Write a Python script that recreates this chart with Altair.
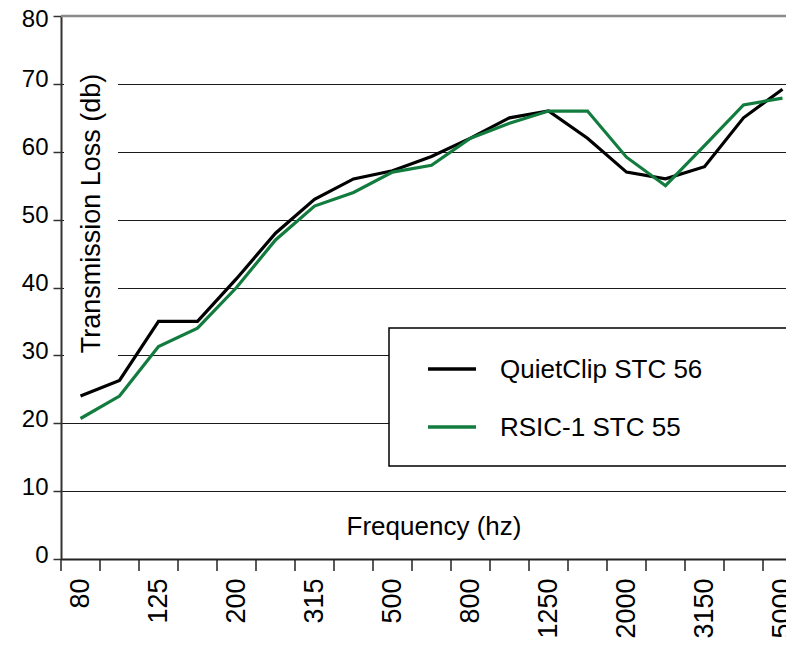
import altair as alt
import pandas as pd

freqs = ["80", "100", "125", "160", "200", "250", "315", "400", "500", "630",
         "800", "1000", "1250", "1600", "2000", "2500", "3150", "4000", "5000"]
quietclip = [24, 26.3, 35, 35, 41.3, 48, 53, 56, 57.2, 59.3,
             62, 65, 66, 62, 57, 56, 57.8, 65, 69.2]
rsic = [20.7, 24, 31.3, 34, 40, 47, 52, 54, 57, 58,
        62, 64.2, 66, 66, 59.2, 55, 60.9, 66.9, 67.9]
series_names = ["QuietClip STC 56", "RSIC-1 STC 55"]
series_colors = ["#000000", "#127c3f"]
y_ticks = [0, 10, 20, 30, 40, 50, 60, 70, 80]
y_title = "Transmission Loss (db)"
x_title = "Frequency (hz)"

FONT = "Liberation Sans"
PLOT_W = 725
BAND = 39.0  # pixel width of one frequency band in the reference

idx = list(range(len(freqs)))
labeled_idx = idx[::2]
boundaries = [i - 0.5 for i in range(len(freqs) + 1)]

rows = []
for i, f, a, b in zip(idx, freqs, quietclip, rsic):
    rows.append({"idx": i, "freq": f, "series": series_names[0], "loss": a})
    rows.append({"idx": i, "freq": f, "series": series_names[1], "loss": b})
df = pd.DataFrame(rows)
ticks_df = pd.DataFrame({"b": boundaries})
one = pd.DataFrame({"k": [0]})

label_expr = "[" + ",".join("'%s'" % v for v in freqs) + "][datum.value]"
x_domain = [-0.5, -0.5 + PLOT_W / BAND]

x_scale = alt.Scale(domain=x_domain, nice=False, zero=False)
x_enc = alt.X(
    "idx:Q", scale=x_scale,
    axis=alt.Axis(title=None, values=labeled_idx, labelExpr=label_expr, labelAngle=270,
                  labelFont=FONT, labelFontSize=27, labelColor="#000000",
                  labelPadding=19, labelOverlap=False, labelFlush=False, ticks=False,
                  tickSize=0, domainColor="#222222", domainWidth=2, grid=False),
)
y_enc = alt.Y(
    "loss:Q",
    scale=alt.Scale(domain=[0, 80], nice=False),
    axis=alt.Axis(title=None, values=y_ticks, grid=True, gridColor="#1a1a1a",
                  gridWidth=1.2, tickSize=8, tickColor="#333333", tickWidth=1.5,
                  domainColor="#333333", domainWidth=2, labelFont=FONT,
                  labelFontSize=24, labelColor="#000000", labelPadding=5,
                  labelOffset=alt.condition("datum.value == 80", alt.value(3),
                                            alt.value(-4))),
)

lines = alt.Chart(df).mark_line(strokeWidth=3.2).encode(
    x=x_enc, y=y_enc,
    color=alt.Color("series:N", scale=alt.Scale(domain=series_names, range=series_colors),
                    legend=None),
)

xticks = alt.Chart(ticks_df).mark_rule(color="#222222", strokeWidth=1.5).encode(
    x=alt.X("b:Q", scale=x_scale), y=alt.value(543), y2=alt.value(555))

mask = alt.Chart(one).mark_rect(fill="white").encode(
    x=alt.value(3), x2=alt.value(57), y=alt.value(44), y2=alt.value(354))

top_rule = alt.Chart(one).mark_rule(color="#8a8a8a", strokeWidth=2.5).encode(
    y=alt.datum(80))

ytitle = alt.Chart(one).mark_text(angle=270, font=FONT, fontSize=27, color="#000000",
                                  align="center", baseline="middle").encode(
    x=alt.value(31), y=alt.value(197.5), text=alt.value(y_title))

xtitle = alt.Chart(one).mark_text(font=FONT, fontSize=26, color="#000000",
                                  align="center", baseline="alphabetic").encode(
    x=alt.value(373), y=alt.value(519), text=alt.value(x_title))

legend_box = alt.Chart(one).mark_rect(fill="white", stroke="#000000", strokeWidth=1.5).encode(
    x=alt.value(328), x2=alt.value(729), y=alt.value(312), y2=alt.value(450))

legend_layers = []
for i, (name, col) in enumerate(zip(series_names, series_colors)):
    yy = 353 + 58 * i
    legend_layers.append(alt.Chart(one).mark_rule(strokeWidth=3.5, color=col).encode(
        x=alt.value(367), x2=alt.value(415), y=alt.value(yy)))
    legend_layers.append(alt.Chart(one).mark_text(font=FONT, fontSize=26, color="#000000",
                                                  align="left", baseline="middle").encode(
        x=alt.value(439), y=alt.value(yy + 1), text=alt.value(name)))

chart = alt.layer(mask, lines, xticks, top_rule, ytitle, xtitle, legend_box,
                  *legend_layers).properties(
    width=PLOT_W, height=543,
    autosize=alt.AutoSizeParams(type="none"),
    padding={"left": 53, "top": 8, "right": 0, "bottom": 80},
    background="white",
).configure_view(stroke=None)

chart.save("out.html", embed_options={"renderer": "svg", "actions": False})
